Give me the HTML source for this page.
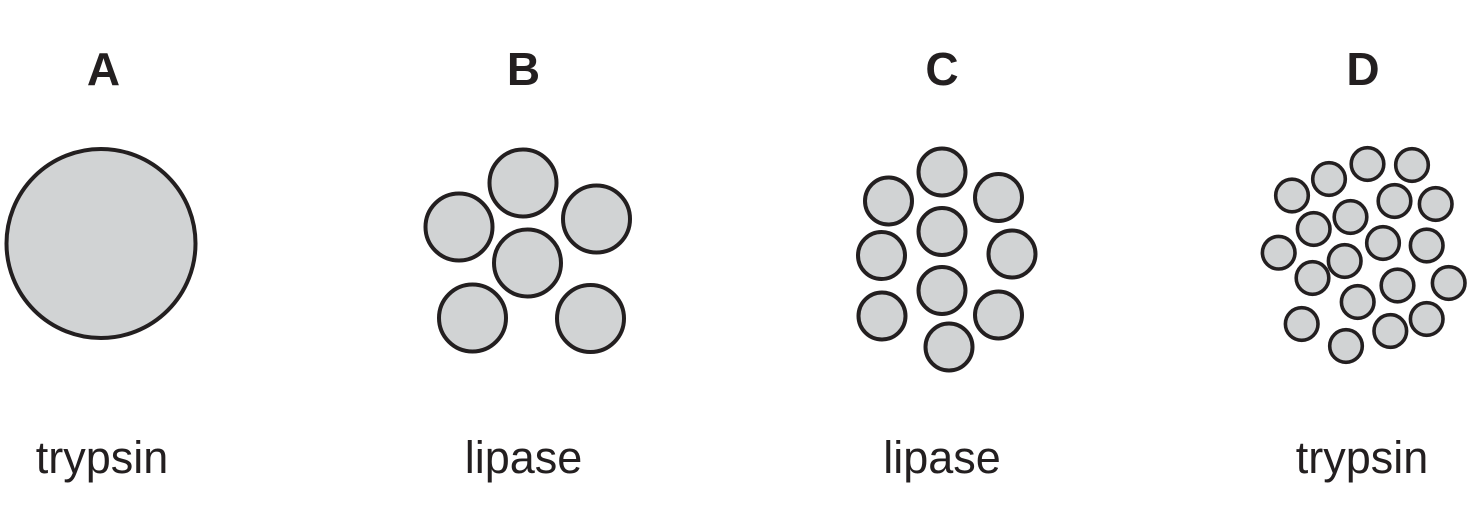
<!DOCTYPE html>
<html>
<head>
<meta charset="utf-8">
<style>
  html, body { margin: 0; padding: 0; background: #ffffff; }
  body { width: 1476px; height: 513px; overflow: hidden; }
  svg { display: block; }
  .lbl { font-family: "Liberation Sans", Arial, sans-serif; font-weight: bold; font-size: 46px; fill: #231f20; }
  .enz { font-family: "Liberation Sans", Arial, sans-serif; font-size: 45px; fill: #231f20; }
  circle { fill: #d1d3d4; stroke: #231f20; }
</style>
</head>
<body>
<svg width="1476" height="513" viewBox="0 0 1476 513" xmlns="http://www.w3.org/2000/svg">
  <!-- Labels -->
  <text class="lbl" x="103.5" y="85" text-anchor="middle">A</text>
  <text class="lbl" x="523.5" y="85" text-anchor="middle">B</text>
  <text class="lbl" x="942" y="85" text-anchor="middle">C</text>
  <text class="lbl" x="1363" y="85" text-anchor="middle">D</text>

  <text class="enz" x="102" y="473" text-anchor="middle">trypsin</text>
  <text class="enz" x="523.5" y="473" text-anchor="middle">lipase</text>
  <text class="enz" x="942" y="473" text-anchor="middle">lipase</text>
  <text class="enz" x="1362" y="473" text-anchor="middle">trypsin</text>

  <!-- A -->
  <circle cx="101" cy="243.5" r="94.5" stroke-width="4"/>

  <!-- B -->
  <g stroke-width="4">
    <circle cx="523" cy="183" r="33.5"/>
    <circle cx="459" cy="227" r="33.5"/>
    <circle cx="596.5" cy="219" r="33.5"/>
    <circle cx="527.5" cy="263" r="33.5"/>
    <circle cx="472.5" cy="318" r="33.5"/>
    <circle cx="590.5" cy="318.5" r="33.5"/>
  </g>

  <!-- C -->
  <g stroke-width="4">
    <circle cx="942" cy="172" r="23.5"/>
    <circle cx="888.5" cy="201" r="23.5"/>
    <circle cx="998.5" cy="197.5" r="23.5"/>
    <circle cx="942" cy="231.5" r="23.5"/>
    <circle cx="881.5" cy="255.5" r="23.5"/>
    <circle cx="1012" cy="254" r="23.5"/>
    <circle cx="942" cy="290.5" r="23.5"/>
    <circle cx="882" cy="316" r="23.5"/>
    <circle cx="998.5" cy="315" r="23.5"/>
    <circle cx="949" cy="347" r="23.5"/>
  </g>

  <!-- D -->
  <g stroke-width="3.6">
    <circle cx="1292" cy="195.5" r="16.3"/>
    <circle cx="1329" cy="179" r="16.3"/>
    <circle cx="1367.5" cy="164" r="16.3"/>
    <circle cx="1412" cy="165" r="16.3"/>
    <circle cx="1394.5" cy="201" r="16.3"/>
    <circle cx="1435.7" cy="204" r="16.3"/>
    <circle cx="1350.5" cy="217" r="16.3"/>
    <circle cx="1313.7" cy="229" r="16.3"/>
    <circle cx="1383" cy="243" r="16.3"/>
    <circle cx="1426.7" cy="245.5" r="16.3"/>
    <circle cx="1278.7" cy="252.7" r="16.3"/>
    <circle cx="1344.7" cy="261" r="16.3"/>
    <circle cx="1312.5" cy="278" r="16.3"/>
    <circle cx="1397.5" cy="285.5" r="16.3"/>
    <circle cx="1448.7" cy="283" r="16.3"/>
    <circle cx="1357.7" cy="302" r="16.3"/>
    <circle cx="1426.7" cy="319" r="16.3"/>
    <circle cx="1301.7" cy="324" r="16.3"/>
    <circle cx="1390.3" cy="331" r="16.3"/>
    <circle cx="1346" cy="346" r="16.3"/>
  </g>
</svg>
</body>
</html>
